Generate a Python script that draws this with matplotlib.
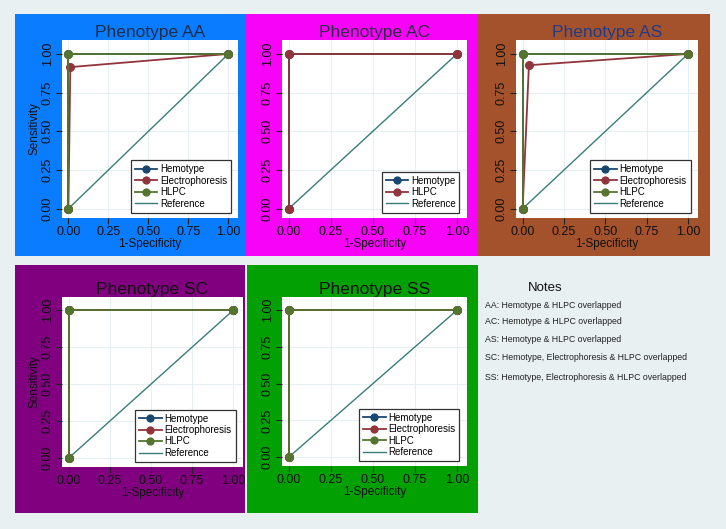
import numpy as np
import matplotlib
matplotlib.use('Agg')
import matplotlib.pyplot as plt
from matplotlib.patches import Rectangle

plt.rcParams['font.family'] = ['Liberation Sans', 'DejaVu Sans']

W, H = 726, 529

# ROC points (1-specificity, sensitivity)
diag_x = [0, 1]
diag_y = [0, 1]

aa_hemo_x, aa_hemo_y = [0, 0, 1], [0, 1, 1]
aa_elec_x, aa_elec_y = [0, 0.012, 1], [0, 0.915, 1]
aa_hlpc_x, aa_hlpc_y = [0, 0, 1], [0, 1, 1]

ac_hemo_x, ac_hemo_y = [0, 0, 1], [0, 1, 1]
ac_hlpc_x, ac_hlpc_y = [0, 0, 1], [0, 1, 1]

as_hemo_x, as_hemo_y = [0, 0, 1], [0, 1, 1]
as_elec_x, as_elec_y = [0, 0.038, 1], [0, 0.927, 1]
as_hlpc_x, as_hlpc_y = [0, 0, 1], [0, 1, 1]

sc_hemo_x, sc_hemo_y = [0, 0, 1], [0, 1, 1]
sc_elec_x, sc_elec_y = [0, 0, 1], [0, 1, 1]
sc_hlpc_x, sc_hlpc_y = [0, 0, 1], [0, 1, 1]

ss_hemo_x, ss_hemo_y = [0, 0, 1], [0, 1, 1]
ss_elec_x, ss_elec_y = [0, 0, 1], [0, 1, 1]
ss_hlpc_x, ss_hlpc_y = [0, 0, 1], [0, 1, 1]

ticks = [0, 0.25, 0.5, 0.75, 1.0]
tick_labels = ['0.00', '0.25', '0.50', '0.75', '1.00']

notes = ['AA: Hemotype & HLPC overlapped',
         'AC: Hemotype & HLPC overlapped',
         'AS: Hemotype & HLPC overlapped',
         'SC: Hemotype, Electrophoresis & HLPC overlapped',
         'SS: Hemotype, Electrophoresis & HLPC overlapped']

navy, maroon, green, teal = '#1a476f', '#90353b', '#55752f', '#3a7d78'

# name, panel colour, title colour, panel box px, axes box px, y label?, curves
panels = [
    ('Phenotype AA', '#0a7cff', '#1c2d48', (15, 14, 245, 256), (62, 40, 238, 218), True,
     [('Hemotype', aa_hemo_x, aa_hemo_y, navy),
      ('Electrophoresis', aa_elec_x, aa_elec_y, maroon),
      ('HLPC', aa_hlpc_x, aa_hlpc_y, green)]),
    ('Phenotype AC', '#f703f7', '#2b2d45', (245, 14, 478, 256), (282, 40, 467, 218), False,
     [('Hemotype', ac_hemo_x, ac_hemo_y, navy),
      ('HLPC', ac_hlpc_x, ac_hlpc_y, maroon)]),
    ('Phenotype AS', '#a4522c', '#1f3c88', (478, 14, 710, 256), (516, 40, 698, 218), False,
     [('Hemotype', as_hemo_x, as_hemo_y, navy),
      ('Electrophoresis', as_elec_x, as_elec_y, maroon),
      ('HLPC', as_hlpc_x, as_hlpc_y, green)]),
    ('Phenotype SC', '#800080', '#111111', (15, 265, 245, 513), (62, 297, 243, 467), True,
     [('Hemotype', sc_hemo_x, sc_hemo_y, navy),
      ('Electrophoresis', sc_elec_x, sc_elec_y, maroon),
      ('HLPC', sc_hlpc_x, sc_hlpc_y, green)]),
    ('Phenotype SS', '#02a002', '#111111', (247, 265, 478, 513), (282, 297, 467, 466), False,
     [('Hemotype', ss_hemo_x, ss_hemo_y, navy),
      ('Electrophoresis', ss_elec_x, ss_elec_y, maroon),
      ('HLPC', ss_hlpc_x, ss_hlpc_y, green)]),
]


def px_box(b):
    x0, y0, x1, y1 = b
    return [x0 / W, 1 - y1 / H, (x1 - x0) / W, (y1 - y0) / H]


fig = plt.figure(figsize=(W / 100, H / 100), dpi=100)
fig.patch.set_facecolor('#e9f0f2')

for title, pcol, tcol, pbox, abox, ylab, curves in panels:
    l, b, w, h = px_box(pbox)
    fig.add_artist(Rectangle((l, b), w, h, transform=fig.transFigure,
                             facecolor=pcol, edgecolor='none', zorder=0))
    ax = fig.add_axes(px_box(abox))
    ax.set_facecolor('white')
    ax.set_zorder(1)
    for name, xs, ys, c in curves:
        ax.plot(xs, ys, color=c, lw=1.3, marker='o', ms=5.5, label=name, zorder=3)
    ax.plot(diag_x, diag_y, color=teal, lw=1.0, label='Reference', zorder=2)
    ax.set_xlim(-0.04, 1.06)
    ax.set_ylim(-0.06, 1.09)
    ax.set_xticks(ticks)
    ax.set_xticklabels(tick_labels, fontsize=9, color='#111111')
    ax.set_yticks(ticks)
    ax.set_yticklabels(tick_labels, fontsize=9, color='#111111', rotation=90, va='center')
    ax.tick_params(length=4, width=0.8, color='#222222', pad=2)
    ax.grid(True, color='#e6eff2', lw=0.8)
    ax.set_axisbelow(True)
    for s in ax.spines.values():
        s.set_visible(False)
    ax.set_xlabel('1-Specificity', fontsize=8.5, color='#111111', labelpad=0)
    if ylab:
        ax.set_ylabel('Sensitivity', fontsize=8.5, color='#111111', labelpad=1)
    ax.set_title(title, fontsize=12.5, color=tcol, pad=1)
    leg = ax.legend(loc='lower right', bbox_to_anchor=(1.015, -0.025),
                    bbox_transform=ax.transData, fontsize=7, frameon=True,
                    fancybox=False, edgecolor='#333333', framealpha=1,
                    borderaxespad=0, handlelength=2.3, handletextpad=0.3,
                    labelspacing=0.15, borderpad=0.4, markerscale=0.9)
    leg.get_frame().set_linewidth(0.9)

fig.text(545 / W, 1 - 288 / H, 'Notes', fontsize=9.5, ha='center', va='center', color='#111111')
note_y = [305, 322, 340, 358, 377]
for yy, s in zip(note_y, notes):
    fig.text(485 / W, 1 - yy / H, s, fontsize=6.3, ha='left', va='center', color='#222222')

plt.savefig('out.png', dpi=100, facecolor=fig.get_facecolor())
